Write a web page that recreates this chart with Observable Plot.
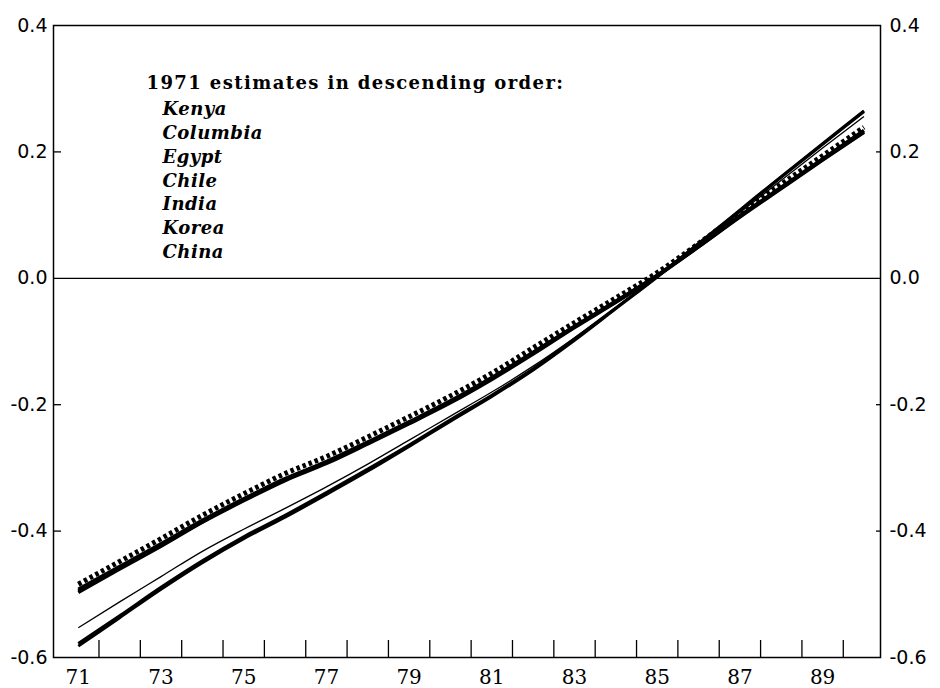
<!DOCTYPE html>
<html><head><meta charset="utf-8">
<script src="https://cdn.jsdelivr.net/npm/d3@7"></script>
<script src="https://cdn.jsdelivr.net/npm/@observablehq/plot@0.6"></script>
<style>body{margin:0;background:#fff}</style>
</head><body><div id="chart"></div>
<script>
const years = [71,72,73,74,75,76,77,78,79,80,81,82,83,84,85,86,87,88,89,90];
const countries = ["Kenya","Columbia","Egypt","Chile","India","Korea","China"];
const kenya    = [-0.484,-0.448,-0.412,-0.375,-0.341,-0.309,-0.282,-0.251,-0.219,-0.186,-0.150,-0.110,-0.070,-0.031,0.009,0.055,0.103,0.149,0.194,0.239];
const columbia = [-0.492,-0.456,-0.420,-0.383,-0.349,-0.317,-0.290,-0.259,-0.227,-0.194,-0.157,-0.117,-0.076,-0.036,0.005,0.051,0.099,0.144,0.189,0.234];
const egypt    = [-0.495,-0.458,-0.422,-0.385,-0.350,-0.318,-0.291,-0.260,-0.228,-0.195,-0.158,-0.118,-0.077,-0.037,0.004,0.050,0.098,0.143,0.188,0.232];
const chile    = [-0.497,-0.460,-0.424,-0.386,-0.352,-0.320,-0.293,-0.262,-0.230,-0.197,-0.160,-0.120,-0.078,-0.038,0.004,0.050,0.097,0.142,0.187,0.231];
const india    = [-0.553,-0.512,-0.472,-0.432,-0.397,-0.364,-0.330,-0.294,-0.256,-0.218,-0.180,-0.139,-0.094,-0.046,0.003,0.053,0.104,0.155,0.206,0.256];
const korea    = [-0.578,-0.534,-0.489,-0.447,-0.409,-0.375,-0.339,-0.302,-0.264,-0.224,-0.185,-0.143,-0.096,-0.047,0.003,0.055,0.108,0.161,0.213,0.265];
const china    = [-0.582,-0.537,-0.492,-0.450,-0.412,-0.378,-0.342,-0.305,-0.266,-0.226,-0.187,-0.145,-0.098,-0.048,0.002,0.054,0.107,0.160,0.212,0.264];
const yTickValues = [-0.6,-0.4,-0.2,0.0,0.2,0.4];
const innerYTicks = [-0.4,-0.2,0.2];
const xTickLabels = [71,73,75,77,79,81,83,85,87,89];
const xMinorTicks = [71.5,72.5,73.5,74.5,75.5,76.5,77.5,78.5,79.5,80.5,81.5,82.5,83.5,84.5,85.5,86.5,87.5,88.5,89.5];
const legendTitle = "1971 estimates in descending order:";

const seriesValues = {Kenya: kenya, Columbia: columbia, Egypt: egypt, Chile: chile, India: india, Korea: korea, China: china};
const table = countries.map(c => years.map((yr, i) => ({country: c, year: yr, value: seriesValues[c][i]})));
const style = {
  Kenya: {strokeWidth: 5, strokeDasharray: "3.5,3"},
  Columbia: {strokeWidth: 3.5},
  Egypt: {strokeWidth: 3.5},
  Chile: {strokeWidth: 3.5},
  India: {strokeWidth: 1.3},
  Korea: {strokeWidth: 3},
  China: {strokeWidth: 3}
};
const drawOrder = ["Columbia","Egypt","Chile","Korea","China","India","Kenya"];
const fmt = d => d.toFixed(1);

const chart = Plot.plot({
  width: 940, height: 688,
  marginLeft: 53, marginRight: 60, marginTop: 25, marginBottom: 31,
  style: {fontFamily: "DejaVu Serif", fontSize: "18px", color: "#000", background: "#fff"},
  x: {domain: [70.4, 90.4], label: null},
  y: {domain: [-0.6, 0.4], label: null},
  marks: [
    Plot.ruleY([0], {strokeWidth: 1.2}),
    Plot.tickX(xMinorTicks, {x: d => d, insetTop: 615, strokeWidth: 1.3}),
    Plot.tickY(innerYTicks, {y: d => d, insetRight: 819, strokeWidth: 1.3}),
    Plot.tickY(innerYTicks, {y: d => d, insetLeft: 823, strokeWidth: 1.3}),
    ...drawOrder.map(c => Plot.line(table[countries.indexOf(c)], {x: "year", y: "value", stroke: "#000", curve: "monotone-x", strokeLinecap: "butt", ...style[c]})),
    Plot.frame({strokeWidth: 1.5}),
    Plot.axisY(yTickValues, {anchor: "left", label: null, tickSize: 0, tickPadding: 6, tickFormat: fmt, fontSize: 19, fontFamily: "DejaVu Sans"}),
    Plot.axisY(yTickValues, {anchor: "right", label: null, tickSize: 0, tickPadding: 9, tickFormat: fmt, fontSize: 19, fontFamily: "DejaVu Sans"}),
    Plot.axisX(xTickLabels, {anchor: "bottom", label: null, tickSize: 0, tickPadding: 12, tickFormat: d => String(d), fontSize: 20, fontFamily: "DejaVu Serif"}),
    Plot.text([legendTitle], {frameAnchor: "top-left", dx: 93, dy: 51, textAnchor: "start", fontSize: 18, fontWeight: "bold"}),
    Plot.text([countries.join("\n")], {frameAnchor: "top-left", dx: 109, dy: 73, textAnchor: "start", lineAnchor: "top", lineHeight: 1.32, fontSize: 18, fontStyle: "italic", fontWeight: "bold"})
  ]
});
const textGroups = d3.select(chart).selectAll('g[aria-label="text"]').nodes();
if (textGroups[0]) d3.select(textGroups[0]).selectAll("text").style("letter-spacing", "1.4px");
if (textGroups[1]) d3.select(textGroups[1]).selectAll("text").style("letter-spacing", "0.5px");
document.getElementById("chart").appendChild(chart);
</script>
</body></html>
